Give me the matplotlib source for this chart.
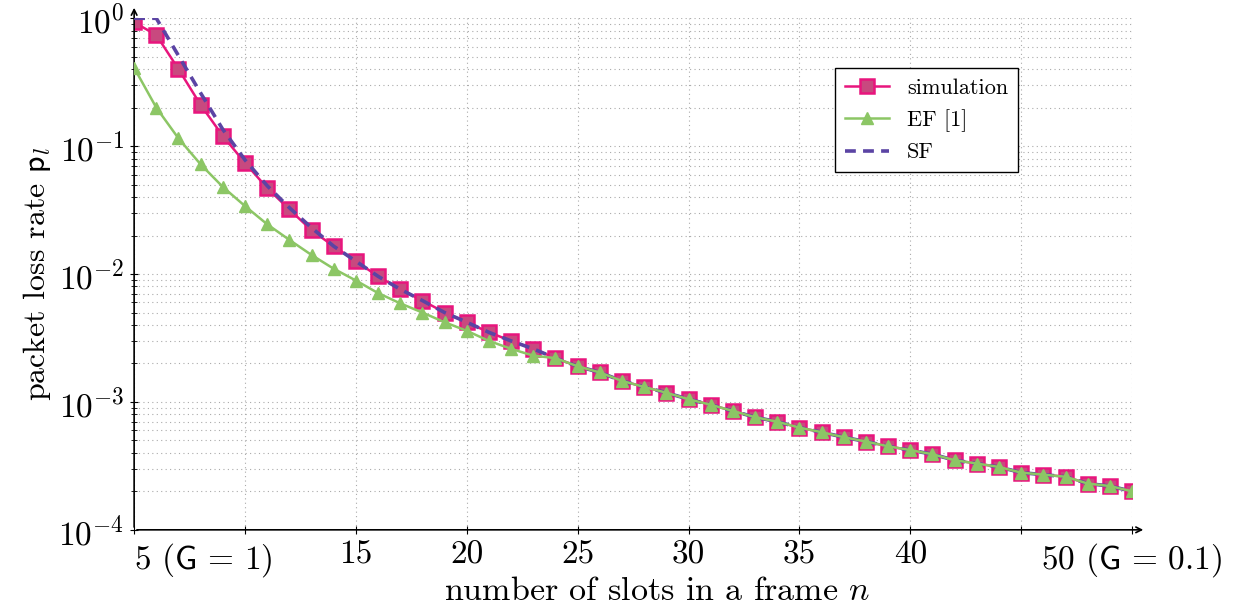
import numpy as np
import matplotlib
matplotlib.use('Agg')
import matplotlib.pyplot as plt
from matplotlib.ticker import LogLocator, NullFormatter

plt.rcParams['font.family'] = 'serif'
plt.rcParams['font.serif'] = ['cmr10', 'DejaVu Serif']
plt.rcParams['mathtext.fontset'] = 'cm'
plt.rcParams['axes.formatter.use_mathtext'] = True

n = list(range(5, 51))

simulation = [0.93, 0.74, 0.40, 0.21, 0.12, 0.074, 0.047, 0.032, 0.022, 0.0165,
              0.0126, 0.0096, 0.0076, 0.0062, 0.0050, 0.0042, 0.0035, 0.0030, 0.0026, 0.0022,
              0.0019, 0.0017, 0.00146, 0.00131, 0.00118, 0.00105, 0.00095, 0.00085, 0.00076, 0.00070,
              0.00063, 0.00058, 0.00053, 0.00049, 0.00045, 0.00042, 0.00039, 0.00035, 0.00033, 0.00031,
              0.00028, 0.00027, 0.00026, 0.00023, 0.00022, 0.00020]

ef = [0.41, 0.20, 0.115, 0.072, 0.048, 0.034, 0.0245, 0.0185, 0.0141, 0.011,
      0.0089, 0.0071, 0.0059, 0.0050, 0.0042, 0.0036, 0.0030, 0.0026, 0.0023, 0.0022,
      0.0019, 0.0017, 0.00146, 0.00131, 0.00118, 0.00105, 0.00095, 0.00085, 0.00076, 0.00070,
      0.00063, 0.00058, 0.00053, 0.00049, 0.00045, 0.00042, 0.00039, 0.00035, 0.00033, 0.00031,
      0.00028, 0.00027, 0.00026, 0.00023, 0.00022, 0.00020]

sf = [1.0, 1.0, 0.51, 0.26, 0.135, 0.078, 0.049, 0.033, 0.023, 0.0165,
      0.0126, 0.0096, 0.0076, 0.0062, 0.0050, 0.0042, 0.0035, 0.0030, 0.0026, 0.0022,
      0.0019, 0.0017, 0.00146, 0.00131, 0.00118, 0.00105, 0.00095, 0.00085, 0.00076, 0.00070,
      0.00063, 0.00058, 0.00053, 0.00049, 0.00045, 0.00042, 0.00039, 0.00035, 0.00033, 0.00031,
      0.00028, 0.00027, 0.00026, 0.00023, 0.00022, 0.00020]

x_ticks = [5, 10, 15, 20, 25, 30, 35, 40, 45, 50]
x_labels = [r'5 ($\mathsf{G}\,=\,1$)', '', '15', '20', '25', '30', '35', '40', '',
            r'50 ($\mathsf{G}\,=\,0.1$)']

fig = plt.figure(figsize=(12.42, 6.09), dpi=100)
ax = fig.add_axes([0.108, 0.13, 0.8035, 0.84])

ax.plot(n, simulation, color='#e8157d', lw=1.8, marker='s', markersize=9.5,
        markerfacecolor='#c8497f', markeredgecolor='#e8157d', markeredgewidth=1.8,
        label='simulation', zorder=3)
ax.plot(n, sf, color='#5b44a4', lw=2.6, ls=(0, (3, 2)), label='SF', zorder=4)
ax.plot(n, ef, color='#8cc665', lw=1.8, marker='^', markersize=9,
        markerfacecolor='#8cc665', markeredgecolor='#8cc665',
        label='EF [1]', zorder=5)

ax.set_yscale('log')
ax.set_xlim(5, 50)
ax.set_ylim(1e-4, 1)
ax.set_xticks(x_ticks)
ax.set_xticklabels(x_labels)
ax.get_xticklabels()[0].set_horizontalalignment('left')
ax.yaxis.set_major_locator(LogLocator(base=10, numticks=10))
ax.yaxis.set_minor_locator(LogLocator(base=10, subs=np.arange(2, 10), numticks=20))
ax.yaxis.set_minor_formatter(NullFormatter())

ax.grid(True, which='major', color='#aaaaaa', ls=(0, (1, 3)), lw=0.8)
ax.grid(True, which='minor', axis='y', color='#aaaaaa', ls=(0, (1, 3)), lw=0.8)

ax.tick_params(axis='both', which='major', labelsize=24, direction='inout', length=6, width=0.8)
ax.tick_params(axis='y', which='minor', direction='inout', length=4, width=0.6)
ax.tick_params(axis='x', pad=5)
ax.tick_params(axis='y', pad=4)

for s in ['top', 'right', 'left', 'bottom']:
    ax.spines[s].set_visible(False)
ax.annotate('', xy=(1.014, 0), xytext=(0, 0), xycoords='axes fraction',
            arrowprops=dict(arrowstyle='->', lw=1.2, color='black'))
ax.annotate('', xy=(0, 1.026), xytext=(0, 0), xycoords='axes fraction',
            arrowprops=dict(arrowstyle='->', lw=1.2, color='black'))

ax.set_xlabel(r'number of slots in a frame $n$', fontsize=24.5)
ax.xaxis.set_label_coords(0.524, -0.093)
ax.set_ylabel(r'packet loss rate $\mathsf{p}_l$', fontsize=23)

handles, labels = ax.get_legend_handles_labels()
order = [0, 2, 1]
leg = ax.legend([handles[i] for i in order], [labels[i] for i in order],
                loc='upper left', bbox_to_anchor=(0.702, 0.902), fontsize=16,
                fancybox=False, edgecolor='black', framealpha=1, borderaxespad=0,
                handlelength=2.0, labelspacing=0.5, borderpad=0.45)
leg.get_frame().set_linewidth(1.0)

fig.savefig('out.png', dpi=100)
